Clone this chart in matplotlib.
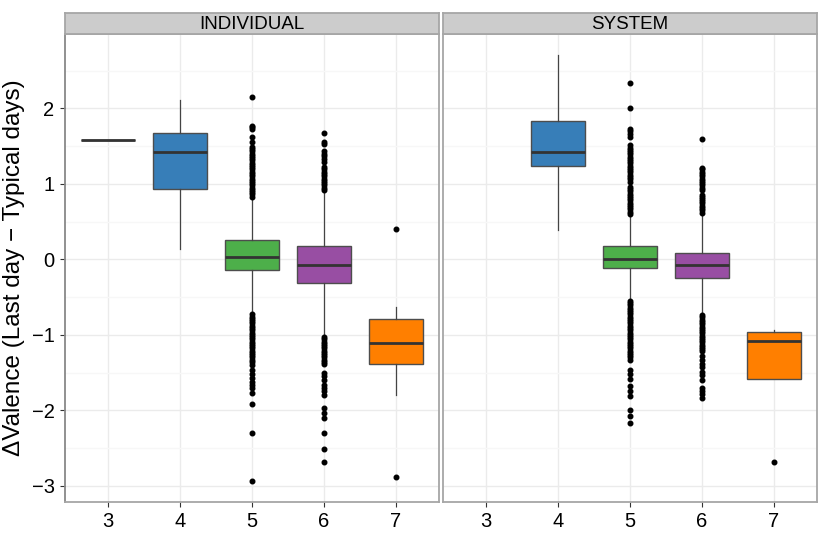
import matplotlib.pyplot as plt

plt.rcParams['font.family'] = ['Liberation Sans', 'DejaVu Sans']

groups = [3, 4, 5, 6, 7]
colors = ["#377EB8", "#377EB8", "#4DAF4A", "#984EA3", "#FF7F00"]
panels = ["INDIVIDUAL", "SYSTEM"]

# box stats per panel: (whislo, q1, median, q3, whishi)
ind_stats = {
    3: (1.58, 1.58, 1.58, 1.58, 1.58),
    4: (0.14, 0.93, 1.42, 1.67, 2.11),
    5: (-0.72, -0.14, 0.035, 0.25, 0.82),
    6: (-1.02, -0.31, -0.07, 0.17, 0.90),
    7: (-1.80, -1.38, -1.11, -0.79, -0.63),
}
sys_stats = {
    4: (0.39, 1.23, 1.42, 1.83, 2.70),
    5: (-0.55, -0.12, 0.01, 0.17, 0.59),
    6: (-0.74, -0.25, -0.075, 0.09, 0.57),
    7: (-1.58, -1.58, -1.08, -0.96, -0.94),
}

ind_fliers = {
    5: [0.83, 0.86, 0.89, 0.92, 0.95, 0.98, 1.01, 1.04, 1.07, 1.10, 1.13, 1.16,
        1.19, 1.22, 1.25, 1.28, 1.31, 1.34, 1.37, 1.40, 1.43, 1.46, 1.49,
        1.56, 1.62, 1.73, 1.75, 1.77, 2.15,
        -0.73, -0.76, -0.79, -0.82, -0.85, -0.88, -0.91, -0.94, -0.97, -1.00,
        -1.03, -1.06, -1.09, -1.12, -1.15, -1.18, -1.21, -1.24, -1.27, -1.30,
        -1.33, -1.36, -1.40, -1.47, -1.52, -1.57, -1.62, -1.66, -1.71, -1.77,
        -1.91, -2.30, -2.93],
    6: [0.92, 0.95, 0.98, 1.01, 1.04, 1.07, 1.10, 1.13, 1.16, 1.19, 1.22,
        1.29, 1.33, 1.37, 1.40, 1.43, 1.53, 1.56, 1.67,
        -1.03, -1.06, -1.09, -1.12, -1.15, -1.18, -1.21, -1.24, -1.27, -1.30,
        -1.33, -1.36, -1.38, -1.51, -1.55, -1.60, -1.66, -1.70, -1.75, -1.80,
        -1.97, -2.03, -2.10, -2.30, -2.51, -2.69],
    7: [0.40, -2.88],
}
sys_fliers = {
    5: [0.60, 0.63, 0.66, 0.69, 0.72, 0.75, 0.78, 0.81, 0.84, 0.87, 0.90, 0.93,
        0.96, 1.03, 1.06, 1.09, 1.12, 1.15, 1.18, 1.21, 1.24, 1.27, 1.30, 1.33,
        1.36, 1.39, 1.42, 1.45, 1.48, 1.51, 1.62, 1.66, 1.70, 1.73, 2.00, 2.34,
        -0.55, -0.58, -0.61, -0.64, -0.67, -0.70, -0.73, -0.76, -0.79, -0.82,
        -0.85, -0.88, -0.91, -0.94, -0.97, -1.00, -1.03, -1.06, -1.09, -1.12,
        -1.15, -1.18, -1.21, -1.24, -1.27, -1.30, -1.33, -1.47, -1.52, -1.59,
        -1.68, -1.74, -1.81, -2.00, -2.08, -2.17],
    6: [0.62, 0.65, 0.68, 0.71, 0.74, 0.77, 0.80, 0.83, 0.85, 0.92, 0.95,
        0.98, 1.01, 1.04, 1.07, 1.10, 1.13, 1.16, 1.19, 1.21, 1.59,
        -0.74, -0.77, -0.80, -0.83, -0.86, -0.89, -0.92, -0.95, -0.98, -1.01,
        -1.04, -1.07, -1.10, -1.13, -1.16, -1.19, -1.22, -1.28, -1.33, -1.38,
        -1.43, -1.49, -1.53, -1.60, -1.70, -1.74, -1.79, -1.84],
    7: [-2.68],
}

fig = plt.figure(figsize=(8.3, 5.54), dpi=100)
W, H = 830.0, 554.0
lefts = [65, 443]
pw = 374
top, bottom = 34.3, 501.7

for i, (name, stats, fliers) in enumerate(zip(panels, [ind_stats, sys_stats], [ind_fliers, sys_fliers])):
    ax = fig.add_axes([lefts[i] / W, (H - bottom) / H, pw / W, (bottom - top) / H])
    bxp = []
    pos = []
    cols = []
    for g, c in zip(groups, colors):
        if g not in stats:
            continue
        lo, q1, med, q3, hi = stats[g]
        bxp.append(dict(whislo=lo, q1=q1, med=med, q3=q3, whishi=hi,
                        fliers=fliers.get(g, [])))
        pos.append(g)
        cols.append(c)
    res = ax.bxp(bxp, positions=pos, widths=0.75, patch_artist=True,
                 showcaps=False,
                 boxprops=dict(edgecolor="#4d4d4d", linewidth=1.0),
                 medianprops=dict(color="#333333", linewidth=2.0, solid_capstyle="butt"),
                 whiskerprops=dict(color="#444444", linewidth=0.9),
                 flierprops=dict(marker="o", markerfacecolor="black",
                                 markeredgecolor="black", markersize=3.3),
                 zorder=3)
    for patch, c in zip(res["boxes"], cols):
        patch.set_facecolor(c)

    ax.set_xlim(2.4, 7.6)
    ax.set_ylim(-3.21, 2.98)
    ax.set_xticks(groups)
    ax.set_xticklabels([str(g) for g in groups])
    ax.set_yticks([-3, -2, -1, 0, 1, 2])
    ax.set_yticks([-2.5, -1.5, -0.5, 0.5, 1.5, 2.5], minor=True)
    ax.yaxis.grid(True, which="major", color="#ebebeb", linewidth=1.0, zorder=0)
    ax.yaxis.grid(True, which="minor", color="#f7f7f7", linewidth=1.0, zorder=0)
    ax.xaxis.grid(True, which="major", color="#ebebeb", linewidth=1.0, zorder=0)
    ax.set_axisbelow(True)
    ax.tick_params(axis="both", which="major", labelsize=14.5, length=3.5,
                   color="#333333", labelcolor="black", pad=4)
    ax.tick_params(axis="y", which="minor", length=0)
    for s in ax.spines.values():
        s.set_color("#a6a6a6")
        s.set_linewidth(1.3)
    if i == 1:
        ax.tick_params(axis="y", which="major", left=False, labelleft=False)
    else:
        ax.spines["left"].set_color("#888888")
        ax.set_ylabel("\u0394Valence (Last day \u2212 Typical days)", fontsize=17.5, labelpad=5)

    # facet strip
    sax = fig.add_axes([lefts[i] / W, (H - top) / H, pw / W, 21 / H])
    sax.set_xticks([])
    sax.set_yticks([])
    sax.set_facecolor("#cccccc")
    for s in sax.spines.values():
        s.set_color("#a6a6a6")
        s.set_linewidth(1.3)
    sax.text(0.5, 0.45, name, ha="center", va="center", fontsize=13.5,
             transform=sax.transAxes)

fig.savefig("out.png", dpi=100)
